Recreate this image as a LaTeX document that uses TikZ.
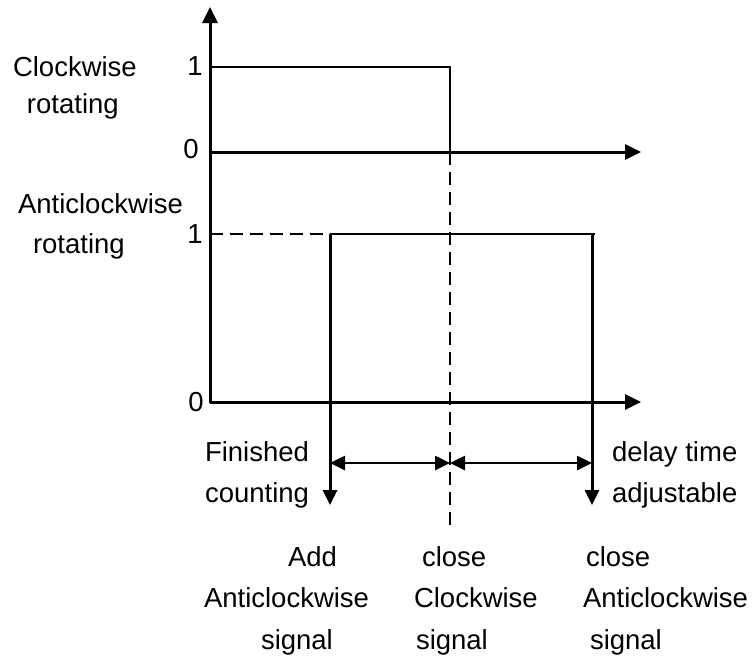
\documentclass[tikz,border=0pt]{standalone}
\usepackage{fontspec}
\setmainfont{Liberation Sans}
\usetikzlibrary{arrows.meta}
\begin{document}
\begin{tikzpicture}[x=1pt,y=-1pt,
  lbl/.style={inner sep=0pt,outer sep=0pt,font=\fontsize{27.5}{33}\selectfont,anchor=base west},
  num/.style={inner sep=0pt,outer sep=0pt,font=\fontsize{27.5}{33}\selectfont,anchor=base},
  axis/.style={line width=3pt,-{Triangle[length=16pt,width=15pt]}},
  sig/.style={line width=2pt},
  dsh/.style={line width=1.8pt,dash pattern=on 13pt off 7pt},
  darr/.style={line width=3pt,-{Triangle[length=15pt,width=14pt]}},
  harr/.style={line width=2.6pt,{Triangle[length=15pt,width=14pt]}-{Triangle[length=15pt,width=14pt]}}]
\useasboundingbox (0,0) rectangle (754,657);
% coordinates
\coordinate (O) at (210,403);
\coordinate (Ytop) at (210,7);
\coordinate (A0) at (210,152);
\coordinate (A0e) at (641,152);
\coordinate (B0) at (210,402);
\coordinate (B0e) at (641,402);
\coordinate (C1s) at (210,67);
\coordinate (C1e) at (450,67);
\coordinate (C0e) at (450,152);
\coordinate (Dend) at (450,527);
\coordinate (D1s) at (210,234);
\coordinate (D1a) at (330,234);
\coordinate (D1b) at (592,234);
\coordinate (D1c) at (595,234);
\coordinate (Ltip) at (330,505);
\coordinate (Rtip) at (592,505);
\coordinate (HL) at (330,463);
\coordinate (HM) at (450,463);
\coordinate (HR) at (592,463);
% axes
\draw[axis] (O) -- (Ytop);
\draw[axis] (A0) -- (A0e);
\draw[axis] (B0) -- (B0e);
% clockwise signal
\draw[sig] (C1s) -- (C1e) -- (C0e);
\draw[dsh] (C0e) -- (Dend);
% anticlockwise signal
\draw[dsh] (D1s) -- (D1a);
\draw[sig] (D1a) -- (D1c);
\draw[darr] (D1a) -- (Ltip);
\draw[darr] (D1b) -- (Rtip);
% intervals
\draw[harr] (HL) -- (HM);
\draw[harr] (HM) -- (HR);
% tick labels
\node[num] (n1a) at (195,75) {1};
\node[num] (n0a) at (191,158) {0};
\node[num] (n1b) at (195,243) {1};
\node[num] (n0b) at (196,411) {0};
% left labels
\node[lbl] (cw) at (13,76) {Clockwise};
\node[lbl] (cwr) at (27,113) {rotating};
\node[lbl] (acw) at (18,213) {Anticlockwise};
\node[lbl] (acwr) at (33,253) {rotating};
% bottom labels
\node[lbl] (fin) at (205,461) {Finished};
\node[lbl] (cnt) at (205,502) {counting};
\node[lbl] (dly) at (612,461) {delay time};
\node[lbl] (adj) at (612,502) {adjustable};
\node[lbl] (add) at (288,566) {Add};
\node[lbl] (addb) at (204,607) {Anticlockwise};
\node[lbl] (addc) at (261,649) {signal};
\node[lbl] (cl1) at (422,566) {close};
\node[lbl] (cl1b) at (414,607) {Clockwise};
\node[lbl] (cl1c) at (416,649) {signal};
\node[lbl] (cl2) at (586,566) {close};
\node[lbl] (cl2b) at (583,607) {Anticlockwise};
\node[lbl] (cl2c) at (590,649) {signal};
\end{tikzpicture}
\end{document}
